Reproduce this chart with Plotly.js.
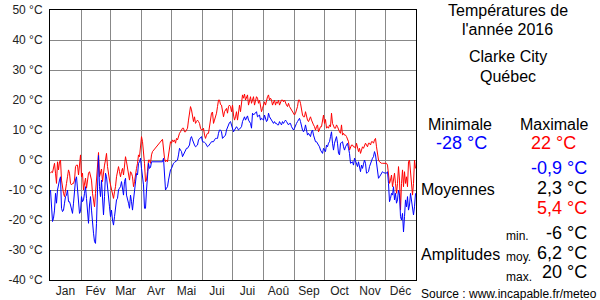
<!DOCTYPE html>
<html>
<head>
<meta charset="utf-8">
<script src="https://cdn.plot.ly/plotly-3.0.1.min.js"></script>
<style>html,body{margin:0;padding:0;background:#fff;}#chart{width:600px;height:300px;}</style>
</head>
<body>
<div id="chart"></div>
<script>
// ---- Data ----
const monthNames = ['Jan','Fév','Mar','Avr','Mai','Jui','Jui','Aoû','Sep','Oct','Nov','Déc'];
const monthLengths = [31,29,31,30,31,30,31,31,30,31,30,31];

// Daily maximum temperature (°C), 2016, day 1 .. 366 (null = missing)
const tMax = [
-4.4,-3.9,-4.2,-2.2,-1.1,-4.4,-7.8,-0.6,-3.3,-0.6,
0,-6.7,-10,-11.1,-12.2,-8.9,-7.8,-5.6,-3.3,-4.4,
-7.8,-8.3,-7.8,-7.8,-6.7,-2.2,-1.7,-1.7,-5,-1.7,
1.7,-5.6,-4.4,-10,-8,-6,-9.4,-6.7,-4.4,-3.9,
-5.6,-6.7,-11.1,-13.3,-15.6,-11.1,-6.7,-3,2.5,-5.6,
-4.4,-3,-7.2,-3.3,-1.7,0,2.2,-2.2,-5,-6.7,
-8.3,-10,-11.1,-12.8,-10.6,-8.9,-5.6,-3.9,-2.2,-3.9,
-5.6,-3.9,-2.8,-5,-2.2,1.1,-0.6,-2.8,-6.1,-6.7,
-3.9,-4.4,-5.6,-8.9,-7.2,-5.6,-2.8,-1.1,1.7,1.1,
5.6,7.8,6.1,2.8,-1.1,-7.2,-6.7,-3.9,0,0,
-1.1,1.7,2.8,null,null,null,null,null,null,null,
null,null,6.9,3,0.6,-0.6,0,-0.6,2.2,4.4,
6.1,5.6,6.7,6.1,6.7,5.6,7.2,6.7,8.3,8.9,
9.4,10,10.6,10.6,9.4,9.4,10,10.6,13.3,15.6,
17.8,16.7,15,12.8,14.4,12.2,12.8,13.3,12.8,12.2,
10.6,10,10,10.6,8.3,7.2,8.3,8.9,8.9,11.1,
12.2,15.6,16,12.2,13.3,14.4,15.6,17.8,20,20,
18.5,18.3,16.1,14.4,16.1,16.7,17.2,15.6,17.8,18.3,
17.8,16.1,18.3,15,13.3,14.4,16.1,13.3,16.1,18.3,
16.1,18.9,21.7,20.6,22,20,20.6,21.7,18.3,19.4,
21.1,18.9,20,21.1,18.3,19.4,21.1,20.6,18.9,20,
17.8,16.1,17.2,18.9,19.4,18.3,20,21.1,21.7,20,
20.6,20,18.3,19.4,20,18.3,19.4,18.9,20,18.3,
19.4,20,20,19.4,20,18.9,18.3,17.8,18.9,17.8,
17.2,16.7,16.1,15.6,15,15.6,16.7,17.8,20,20,
18.9,16.1,15,14.4,14.4,16.1,14.4,13.3,12.8,13.9,
14.4,13.3,12.2,11.7,11.1,10,11.1,11.7,9.4,10.6,
11.1,11.1,13.3,15,12.2,13.5,10.6,11.1,10.6,11.7,
11.1,15.6,12.2,11.1,10.6,10.6,11.7,11.1,10,9.4,
8.9,11.7,8.3,8.9,8.3,8.3,7.8,6.7,6.1,3.3,
4.4,5,5,4.4,4.4,3.9,5.6,4.4,2.8,3.9,
2.2,3.3,4.4,3.9,5,5.6,5,4.4,5.6,5.6,
5,6.1,6.1,5.6,6.7,7.2,4.4,1.1,0,-0.6,
-0.9,-1.1,-1.1,-1.1,-1.1,-1.1,-1.1,-1.7,-4.4,-7.8,
-6.7,-5,-8.9,-5.6,-4.4,-7.8,-11.1,-7.8,-2.2,-6.7,
-16.7,-7.8,-3.3,-8.9,-3.9,-7.8,-5.6,-8.9,-0.6,0,
-4.4,-10,-11.7,-7.8,0,-2.8
];

// Daily minimum temperature (°C), 2016, day 1 .. 366 (null = missing)
const tMin = [
-10,-14.4,-20.5,-19.4,-16.7,-11.1,-14.4,-10,-7.8,-6.7,
-5.6,-16.1,-17.2,-16.7,-14.4,-12.2,-11.7,-10,-13.9,-13.9,
-15,-16.1,-17.8,-14.4,-9.4,-6.7,-5.6,-8.9,-12.2,-17.8,
-17.2,-12.2,-13.9,-13.3,-11.1,-8.9,-12.8,-17.2,-21.1,-15,
-12.2,-16.7,-21.7,-24.4,-27.2,-27.8,-21.1,-12.8,1.5,-8.9,
-12.2,-6.7,-12.2,-18.3,-12.2,-4.4,-5.6,-8.3,-11.1,-15.6,
-18.9,-16.7,-20,-21.7,-18.9,-15.6,-13.3,-12.8,-10,-9.4,
-8.9,-7.2,-10,-11.7,-7.2,-6.1,-11.7,-12.8,-14.4,-16.1,
-11.7,-13.9,-16.7,-13.3,-9.4,-7,-4.5,-5,-1.1,-0.6,
0.6,-2.8,-6.1,-8.3,-16.1,-16.1,-10,-4.4,-1.1,-2.8,
-2.5,-0.6,-0.6,null,null,null,null,null,null,null,
null,null,-0.6,0.6,-4.4,-10,-9.4,-8.9,-6.7,-4.4,
-3.3,-2.8,-1.7,-1.1,-0.8,-0.6,-0.3,0,1.7,3.9,
3.3,2.8,1.1,1.7,2.8,3.3,3.9,3.9,4.4,5,
7.2,7.8,6.7,5.6,5,4.4,4.7,5,6.7,7.2,
7.5,7.8,6.1,6.1,5.9,5.6,5,4.4,4.7,5,
5.6,6.1,6.1,6.1,6.7,7.2,7.2,7.2,8.9,10,
10,9.4,7.2,7.5,7.8,8.3,10,11.1,12.2,12.5,
12.8,11.7,10,9.4,10,10.6,11.1,10.6,10,10.3,
10.6,11.1,12.8,13.9,14.4,13.3,13.9,14.7,13.3,12.8,
12.2,10.6,15.6,15,15.3,15.6,16.1,14.4,14.7,15,
13.3,13.9,13.6,13.3,15,13.9,12.8,13.3,15.6,14.4,
13.9,13.3,12.8,12.2,12.8,12.2,12.2,11.7,11.7,12.8,
12.2,11.7,12.8,12.2,12.8,13.3,12.8,12.2,11.7,12.2,
12.2,11.1,10.6,10,10.6,11.7,12.2,12.8,13.3,13.9,
12.8,11.1,10,9.4,10,11.7,10,8.3,8.9,8.3,
7.8,9.4,10,8.3,7.2,6.1,6.1,5.6,5,4.4,
3.3,2.8,2.2,3.9,3.3,2.8,5,4.4,5.6,6.1,
7.8,9.4,5.6,3.3,5.6,6.7,7.8,5.6,2.2,1.7,
5.6,5.8,6.1,4.4,3.3,4.4,5,5.6,3.9,2.2,
-1.1,-0.8,-0.6,-1.7,0.6,-0.3,-1.1,-2.2,-0.6,-2.2,
-3.9,-1.7,-2.8,-1.4,0,-1.1,-4.4,-4.2,-3.9,-2.2,
-1.1,-0.3,0.6,1.1,2.8,1.7,-1.1,-4.4,-6.1,-5.6,
-5,-4.4,-3.9,-4.2,-4.4,-4.4,-4.4,-3.9,-7.8,-13.9,
-12.8,-11.1,-11.7,-8.9,-13.3,-11.1,-14.4,-13.3,-10,-11.7,
-18.9,-20,-17.8,-24,-18.9,-13.3,-15.6,-12.2,-16.7,-15,
-11.1,-13.9,-17.2,-18.3,-15.6,-11.1
];

const yTickVals = [-40,-30,-20,-10,0,10,20,30,40,50];
const yTickLabels = ['-40 °C','-30 °C','-20 °C','-10 °C','0 °C','10 °C','20 °C','30 °C','40 °C','50 °C'];

const titleLines = ['Températures de', "l'année 2016"];
const placeLines = ['Clarke City', 'Québec'];
const extremeLabels = ['Minimale', 'Maximale'];
const extremeValues = ['-28 °C', '22 °C'];
const meanLabel = 'Moyennes';
const meanValues = ['-0,9 °C', '2,3 °C', '5,4 °C'];
const amplitudeLabel = 'Amplitudes';
const amplitudeSubLabels = ['min.', 'moy.', 'max.'];
const amplitudeValues = ['-6 °C', '6,2 °C', '20 °C'];
const sourceText = 'Source : www.incapable.fr/meteo';

// ---- Build ----
const days = tMax.map((_, i) => i);
const monthStarts = [];
const monthMids = [];
let acc = 0;
monthLengths.forEach(len => { monthStarts.push(acc - 0.5); monthMids.push(acc + len / 2 - 0.5); acc += len; });
monthStarts.push(acc - 0.5);

const FONT = 'Liberation Sans, Arial, Helvetica, sans-serif';
const RED = '#ff0000', BLUE = '#0000ff', BLACK = '#000000';

// plot area in pixels: left 50, right 416, top 10, bottom 280
const L = 50, R = 416, T = 10, B = 280;
const px = x => (x - L) / (R - L);
const py = y => (B - y) / (B - T);
function ann(text, x, y, size, color, xanchor) {
  return {text: text, x: px(x), y: py(y), xref: 'paper', yref: 'paper',
          xanchor: xanchor, yanchor: 'middle', showarrow: false,
          font: {family: FONT, size: size, color: color}};
}

const annotations = [
  ann(titleLines[0], 507.5, 11, 16, BLACK, 'center'),
  ann(titleLines[1], 507.5, 29, 16, BLACK, 'center'),
  ann(placeLines[0], 507.5, 57, 16, BLACK, 'center'),
  ann(placeLines[1], 507.5, 76, 16, BLACK, 'center'),
  ann(extremeLabels[0], 460, 124, 16, BLACK, 'center'),
  ann(extremeLabels[1], 554, 124, 16, BLACK, 'center'),
  ann(extremeValues[0], 462, 143, 18, BLUE, 'center'),
  ann(extremeValues[1], 553, 143, 18, RED, 'center'),
  ann(meanValues[0], 589, 168, 18, BLUE, 'right'),
  ann(meanLabel, 419, 189.5, 16, BLACK, 'left'),
  ann(meanValues[1], 589, 188, 18, BLACK, 'right'),
  ann(meanValues[2], 589, 208, 18, RED, 'right'),
  ann(amplitudeSubLabels[0], 504, 236, 12, BLACK, 'left'),
  ann(amplitudeValues[0], 589, 233, 18, BLACK, 'right'),
  ann(amplitudeLabel, 419, 254, 16, BLACK, 'left'),
  ann(amplitudeSubLabels[1], 504, 257, 12, BLACK, 'left'),
  ann(amplitudeValues[1], 589, 253, 18, BLACK, 'right'),
  ann(amplitudeSubLabels[2], 504, 277, 12, BLACK, 'left'),
  ann(amplitudeValues[2], 589, 272, 18, BLACK, 'right'),
  ann(sourceText, 419, 294, 12, BLACK, 'left')
];

const traces = [
  {x: days, y: tMax, type: 'scatter', mode: 'lines', connectgaps: true,
   line: {color: RED, width: 1}, hoverinfo: 'skip'},
  {x: days, y: tMin, type: 'scatter', mode: 'lines', connectgaps: true,
   line: {color: BLUE, width: 1}, hoverinfo: 'skip'}
];

const layout = {
  width: 600, height: 300,
  margin: {l: L, r: 600 - R, t: T, b: 300 - B, pad: 0},
  paper_bgcolor: '#ffffff', plot_bgcolor: '#ffffff',
  showlegend: false,
  font: {family: FONT, size: 12, color: '#222'},
  xaxis: {
    range: [-0.5, days.length - 0.5],
    tickmode: 'array', tickvals: monthMids, ticktext: monthNames,
    ticks: '', showgrid: false, zeroline: false,
    showline: true, mirror: true, linecolor: BLACK, linewidth: 1,
    tickfont: {family: FONT, size: 12, color: '#222'},
    minor: {tickmode: 'array', tickvals: monthStarts, showgrid: true, gridcolor: '#888888', gridwidth: 1, ticks: ''},
    fixedrange: true
  },
  yaxis: {
    range: [-40, 50],
    tickmode: 'array', tickvals: yTickVals, ticktext: yTickLabels,
    ticks: 'outside', ticklen: 4, tickcolor: 'rgba(0,0,0,0)',
    showgrid: true, gridcolor: '#888888', gridwidth: 1, zeroline: false,
    showline: true, mirror: true, linecolor: BLACK, linewidth: 1,
    tickfont: {family: FONT, size: 12, color: '#222'},
    fixedrange: true
  },
  annotations: annotations
};

Plotly.newPlot('chart', traces, layout, {staticPlot: true, displayModeBar: false});
</script>
</body>
</html>
